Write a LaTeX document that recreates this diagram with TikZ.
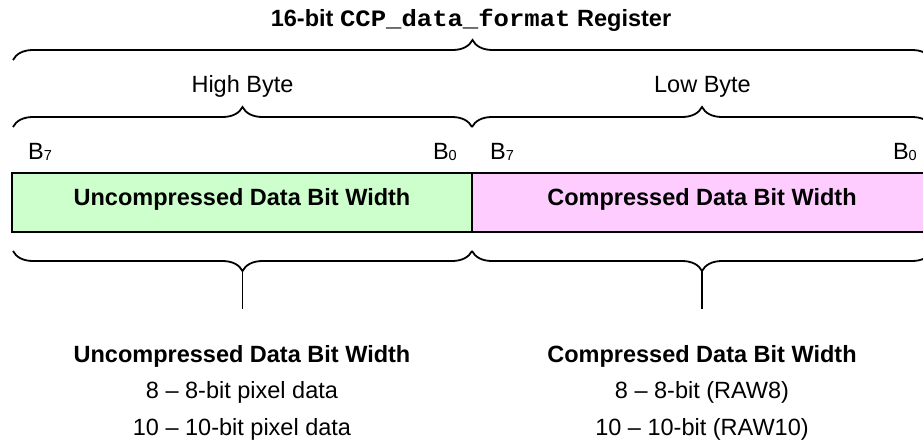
\documentclass[tikz,border=0pt]{standalone}
\usepackage{fontspec}
\setmainfont{Liberation Sans}
\newfontfamily\codefont[FakeStretch=1.09]{Liberation Mono}
\usetikzlibrary{decorations.pathreplacing}
\definecolor{hifill}{RGB}{204,255,204}
\definecolor{lofill}{RGB}{255,204,255}
\newcommand\txtsize{\fontsize{23.5}{28}\selectfont}
\newcommand\bitsub[1]{\raisebox{-1.5pt}{\fontsize{14.5}{15}\selectfont #1}}
\begin{document}
\begin{tikzpicture}[x=1pt,y=-1pt,
  lbl/.style={inner sep=0pt, font=\txtsize},
  boldlbl/.style={inner sep=0pt, font=\txtsize\bfseries},
  field/.style={draw=black, line width=1.6pt, minimum width=460pt, minimum height=59pt,
                inner sep=0pt, text height=16pt, text depth=11pt, font=\txtsize\bfseries},
  curly/.style={draw, line width=1.8pt, decorate, decoration={brace, amplitude=20pt}},
  stem/.style={draw, line width=1.8pt}]
\useasboundingbox (0,0) rectangle (923,439);

% register title
\node[boldlbl, anchor=base] (title) at (471,27) {16-bit {\codefont CCP\_data\_format} Register};

% brace over the whole register
\coordinate (regL) at (13,60);
\coordinate (regR) at (932,60);
\draw[curly] (regL) -- (regR);

% byte names and their braces
\node[lbl, anchor=base] (hibyte) at (242.5,92) {High Byte};
\node[lbl, anchor=base] (lobyte) at (702.5,92) {Low Byte};
\coordinate (hiL) at (13,127);
\coordinate (mid) at (472,127);
\coordinate (loR) at (932,127);
\draw[curly] (hiL) -- (mid);
\draw[curly] (mid) -- (loR);

% bit numbers
\node[lbl, anchor=base west] (b7h) at (28,159) {B\bitsub{7}};
\node[lbl, anchor=base east] (b0h) at (457,159) {B\bitsub{0}};
\node[lbl, anchor=base west] (b7l) at (490,159) {B\bitsub{7}};
\node[lbl, anchor=base east] (b0l) at (917,159) {B\bitsub{0}};

% the two register fields
\node[field, fill=hifill] (hi) at (242,202.5) {Uncompressed Data Bit Width};
\node[field, fill=lofill] (lo) at (702,202.5) {Compressed Data Bit Width};

% braces under the fields
\coordinate (ubL) at (13,251);
\coordinate (ubM) at (472,251);
\coordinate (ubR) at (932,251);
\draw[curly] (ubM) -- (ubL);
\draw[curly] (ubR) -- (ubM);

% stems from the brace tips
\coordinate (utip) at (242.5,271);
\coordinate (uend) at (242.5,309);
\coordinate (ctip) at (702,271);
\coordinate (cend) at (702,309);
\draw[stem] (utip) -- (uend);
\draw[stem] (ctip) -- (cend);

% value tables
\node[boldlbl, anchor=base] (ucap) at (242,362) {Uncompressed Data Bit Width};
\node[lbl, anchor=base] (u8) at (242,398) {8 – 8-bit pixel data};
\node[lbl, anchor=base] (u10) at (242,435) {10 – 10-bit pixel data};
\node[boldlbl, anchor=base] (ccap) at (702,362) {Compressed Data Bit Width};
\node[lbl, anchor=base] (c8) at (702,398) {8 – 8-bit (RAW8)};
\node[lbl, anchor=base] (c10) at (702,435) {10 – 10-bit (RAW10)};
\end{tikzpicture}
\end{document}
